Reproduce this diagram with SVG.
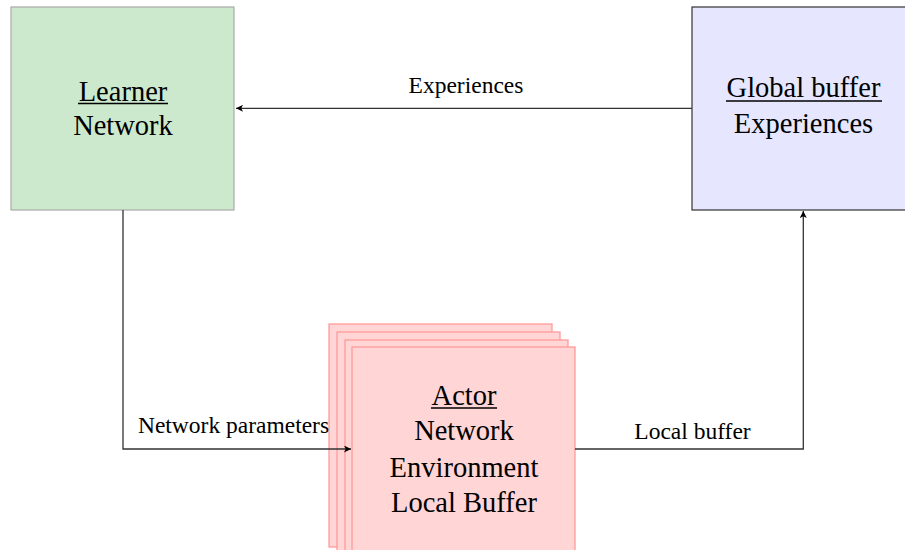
<svg xmlns="http://www.w3.org/2000/svg" width="905" height="550" viewBox="0 0 905 550">
<defs>
<marker id="arr" viewBox="0 0 10 10" refX="10" refY="5" markerWidth="7" markerHeight="7" markerUnits="userSpaceOnUse" orient="auto">
<path d="M0,0 L10,5 L0,10 L2.5,5 Z" fill="#000"/>
</marker>
</defs>
<style>
text { font-family: "Liberation Serif", "Times New Roman", serif; fill: #000; }
.big { font-size: 28.5px; text-anchor: middle; }
.lbl { font-size: 23.5px; text-anchor: middle; }
.ul { stroke: #000; stroke-width: 1.3; }
.actor { fill: #ffd5d5; stroke: #ff9a9a; stroke-width: 1.3; }
.conn { fill: none; stroke: #333; stroke-width: 1.3; }
</style>
<rect width="905" height="550" fill="#fff"/>
<g id="learner">
<rect x="11" y="7" width="223" height="203" fill="#cde9cd" stroke="#aaa" stroke-width="1.2"/>
<text class="big" x="123" y="100.5">Learner</text>
<line class="ul" x1="78" y1="103.5" x2="168" y2="103.5"/>
<text class="big" x="123" y="135">Network</text>
</g>
<g id="global">
<rect x="692" y="7" width="223" height="203" fill="#e6e6ff" stroke="#333" stroke-width="1.2"/>
<text class="big" x="803.5" y="96.5">Global buffer</text>
<line class="ul" x1="726" y1="101" x2="882" y2="101"/>
<text class="big" x="803.5" y="133">Experiences</text>
</g>
<g id="actor">
<rect class="actor" x="329" y="324" width="223" height="223"/>
<rect class="actor" x="337" y="332" width="223" height="223"/>
<rect class="actor" x="345" y="340" width="223" height="223"/>
<rect class="actor" x="352" y="347" width="223" height="223"/>
<text class="big" x="464" y="405">Actor</text>
<line class="ul" x1="431" y1="408" x2="497" y2="408"/>
<text class="big" x="464" y="440">Network</text>
<text class="big" x="464" y="476.5">Environment</text>
<text class="big" x="464" y="511.5">Local Buffer</text>
</g>
<g id="connectors">
<path class="conn" d="M692,108.3 L236,108.3" marker-end="url(#arr)"/>
<text class="lbl" x="466" y="92.5">Experiences</text>
<path class="conn" d="M123,210 L123,449 L351,449" marker-end="url(#arr)"/>
<text class="lbl" x="233.5" y="433">Network parameters</text>
<path class="conn" d="M575,449 L803.3,449 L803.3,211" marker-end="url(#arr)"/>
<text class="lbl" x="692.5" y="439">Local buffer</text>
</g>
</svg>
